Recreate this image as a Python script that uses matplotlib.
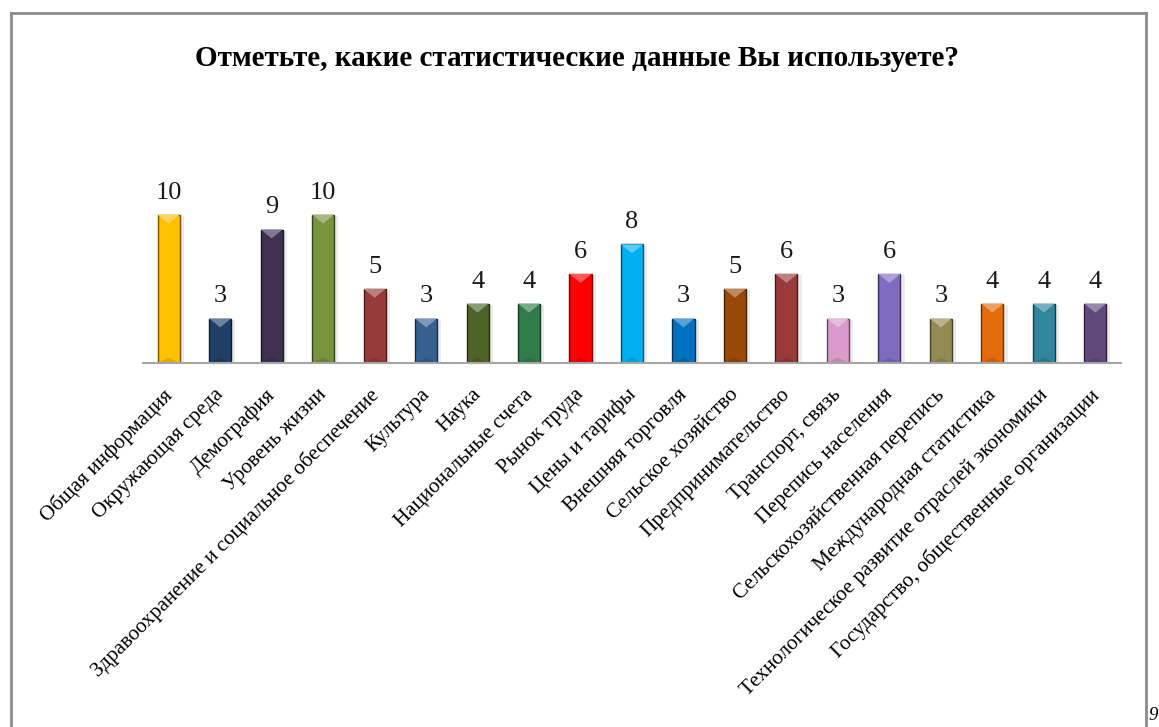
import matplotlib.pyplot as plt
import matplotlib.transforms as mtransforms
from matplotlib.patches import Polygon
from matplotlib.lines import Line2D
from matplotlib.colors import to_rgb

plt.rcParams['font.family'] = ['Liberation Serif', 'DejaVu Serif']

title = "Отметьте, какие статистические данные Вы используете?"

categories = [
    "Общая информация", "Окружающая среда", "Демография", "Уровень жизни",
    "Здравоохранение и социальное обеспечение", "Культура", "Наука",
    "Национальные счета", "Рынок труда", "Цены и тарифы", "Внешняя торговля",
    "Сельское хозяйство", "Предпринимательство", "Транспорт, связь",
    "Перепись населения", "Сельскохозяйственная перепись",
    "Международная статистика", "Технологическое развитие отраслей экономики",
    "Государство, общественные организации",
]
values = [10, 3, 9, 10, 5, 3, 4, 4, 6, 8, 3, 5, 6, 3, 6, 3, 4, 4, 4]
colors = [
    "#FFC000", "#1F3F66", "#3F3151", "#77933C", "#963B38", "#376092",
    "#4F6228", "#2E7D48", "#FF0000", "#00B0F0", "#0070C0", "#984807",
    "#9A3A3A", "#D99BCB", "#7F6BC0", "#948A54", "#E46C0A", "#31859C",
    "#604A7B",
]


def mix(c, other, t):
    a, b = to_rgb(c), to_rgb(other)
    return tuple(a[k] * (1 - t) + b[k] * t for k in range(3))


fig = plt.figure(figsize=(11.59, 7.27), dpi=100)
ax = fig.add_axes([143 / 1159, 1 - 363 / 727, (1121 - 143) / 1159, (363 - 185) / 727])

width = 0.43
bevel = 0.6
x = list(range(len(categories)))

bars = ax.bar(x, values, width=width, color=colors, zorder=3)
for bar, c in zip(bars, colors):
    bar.set_edgecolor(mix(c, "black", 0.55))
    bar.set_linewidth(1.0)
    x0, w, h = bar.get_x(), bar.get_width(), bar.get_height()
    # top facet of the bevel
    ax.add_patch(Polygon([(x0, h), (x0 + w, h), (x0 + w / 2, h - bevel)],
                         closed=True, facecolor=mix(c, "white", 0.35),
                         edgecolor="none", zorder=4))
    # faint bottom facet
    ax.add_patch(Polygon([(x0, 0), (x0 + w, 0), (x0 + w / 2, bevel * 0.6)],
                         closed=True, facecolor=mix(c, "black", 0.12),
                         edgecolor="none", zorder=4))
    # soft shadow
    ax.add_patch(plt.Rectangle((x0 + 0.03, 0), w + 0.05, h - 0.1,
                               facecolor="#000000", alpha=0.08,
                               edgecolor="none", zorder=2))

for xi, v in zip(x, values):
    ax.annotate(str(v), (xi, v), xytext=(0, 8), textcoords="offset points",
                ha="center", va="bottom", fontsize=19, color="#1a1a1a")

ax.set_xlim(-0.5, len(categories) - 0.5)
ax.set_ylim(0, 12)
ax.set_yticks([])
ax.set_xticks(x)
ax.set_xticklabels(categories, rotation=45, ha="right", rotation_mode="anchor",
                   fontsize=15.2)
ax.tick_params(axis="x", length=0, pad=16)
shift = mtransforms.ScaledTranslation(-6 / 100, 0, fig.dpi_scale_trans)
for lab in ax.get_xticklabels():
    lab.set_transform(lab.get_transform() + shift)

for s in ["top", "right", "left"]:
    ax.spines[s].set_visible(False)
ax.spines["bottom"].set_color("#A6A6A6")
ax.spines["bottom"].set_linewidth(1.5)
ax.spines["bottom"].set_zorder(5)

fig.text(577 / 1159, 1 - 58 / 727, title, ha="center", va="center",
         fontsize=21, fontweight="bold")

# page frame and page number
fx0, fx1, fy1 = 10.5 / 1159, 1146 / 1159, 1 - 12.5 / 727
frame_kw = dict(color="#8C8C8C", linewidth=2.0, transform=fig.transFigure)
fig.add_artist(Line2D([fx0, fx0], [0, fy1], **frame_kw))
fig.add_artist(Line2D([fx0, fx1], [fy1, fy1], **frame_kw))
fig.add_artist(Line2D([fx1, fx1], [0, fy1], **frame_kw))
fig.text(1148.5 / 1159, 1 - 720 / 727, "9", ha="left", va="baseline",
         fontsize=13.5, style="italic")

fig.savefig("out.png", dpi=100)
